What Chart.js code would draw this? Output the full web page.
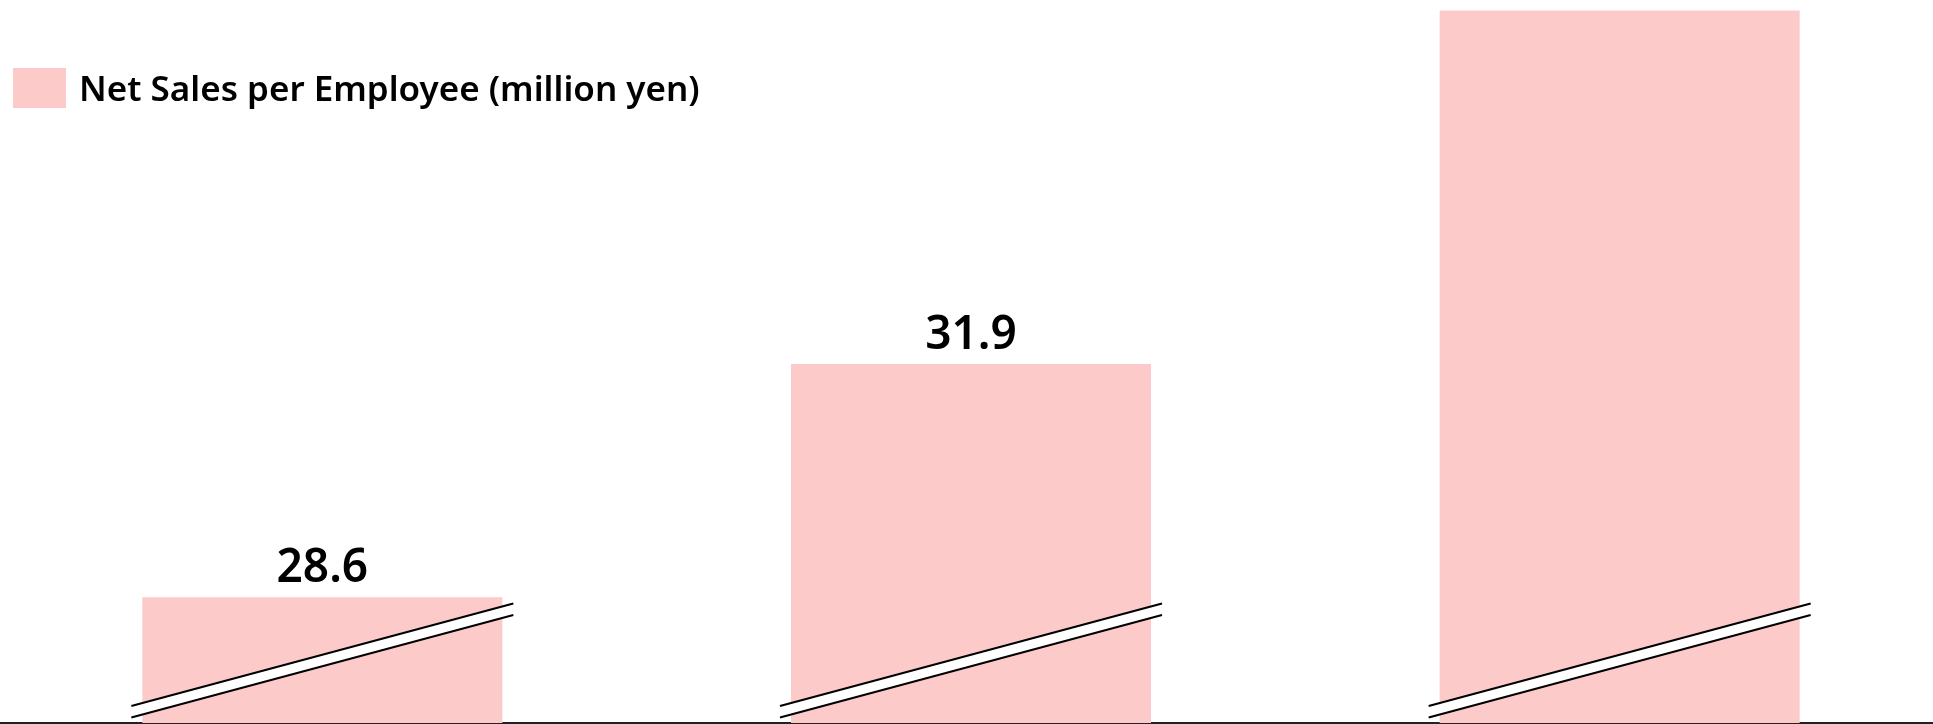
<!DOCTYPE html>
<html>
<head>
<meta charset="utf-8">
<script src="https://cdn.jsdelivr.net/npm/chart.js@4.4.1/dist/chart.umd.min.js"></script>
<style>
  html, body { margin: 0; padding: 0; background: #fff; overflow: hidden; }
  body { width: 1933px; height: 724px; position: relative; font-family: "Noto Sans", "Open Sans", sans-serif; }
  #wrap { position: absolute; left: -2px; top: 0; width: 1946px; height: 724px; }
  #legend { position: absolute; left: 13px; top: 64px; display: flex; align-items: center; font-size: 35px; font-weight: 600; color: #000; }
  #legend .box { width: 53px; height: 40px; margin-right: 13px; }
</style>
</head>
<body>
<div id="wrap"><canvas id="chart"></canvas></div>
<div id="legend"></div>
<script>
Chart.defaults.animation = false;

// --- Data ---
const categories = ['FY1', 'FY2', 'FY3'];
const salesPerEmployee = [28.6, 31.9, 36.9];
const seriesLabel = 'Net Sales per Employee (million yen)';
const barColor = '#fdcaca';

// axis is cut, so it starts well above zero
const yMin = 26.82;
const yMax = 37.05;

// --- Value labels above each bar (skipped when they would leave the canvas) ---
const valueLabels = {
  id: 'valueLabels',
  afterDatasetsDraw(chart) {
    const ctx = chart.ctx;
    const meta = chart.getDatasetMeta(0);
    ctx.save();
    ctx.font = '600 46px "Noto Sans", "Open Sans", sans-serif';
    ctx.fillStyle = '#000';
    ctx.textAlign = 'center';
    ctx.textBaseline = 'alphabetic';
    meta.data.forEach((bar, i) => {
      const y = bar.y - 15;
      if (y - 36 < 0) return;
      ctx.fillText(salesPerEmployee[i].toFixed(1), bar.x, y);
    });
    ctx.restore();
  }
};

// --- Axis break marks across the foot of each bar ---
const breakMarks = {
  id: 'breakMarks',
  afterDatasetsDraw(chart) {
    const ctx = chart.ctx;
    const bottom = chart.chartArea.bottom;
    const meta = chart.getDatasetMeta(0);
    const gap = 11.5;
    ctx.save();
    meta.data.forEach(bar => {
      const x0 = bar.x - bar.width / 2 - 11;
      const x1 = bar.x + bar.width / 2 + 11;
      const y0 = bottom - 17;
      const y1 = bottom - 119.5;
      ctx.beginPath();
      ctx.moveTo(x0, y0);
      ctx.lineTo(x1, y1);
      ctx.lineTo(x1, y1 + gap);
      ctx.lineTo(x0, y0 + gap);
      ctx.closePath();
      ctx.fillStyle = '#fff';
      ctx.fill();
      ctx.lineWidth = 2;
      ctx.strokeStyle = '#000';
      ctx.beginPath();
      ctx.moveTo(x0, y0);
      ctx.lineTo(x1, y1);
      ctx.moveTo(x0, y0 + gap);
      ctx.lineTo(x1, y1 + gap);
      ctx.stroke();
    });
    ctx.restore();
  }
};

function renderChart() {
  const ctx = document.getElementById('chart').getContext('2d');
  new Chart(ctx, {
    type: 'bar',
    data: {
      labels: categories,
      datasets: [{
        label: seriesLabel,
        data: salesPerEmployee,
        backgroundColor: barColor,
        borderWidth: 0,
        barPercentage: 0.555,
        categoryPercentage: 1
      }]
    },
    options: {
      responsive: true,
      maintainAspectRatio: false,
      layout: { padding: { top: 0, bottom: 1, left: 0, right: 0 } },
      scales: {
        x: {
          grid: { display: false, drawTicks: false },
          ticks: { display: false },
          border: { display: true, color: '#222', width: 2 }
        },
        y: {
          display: false,
          min: yMin,
          max: yMax
        }
      },
      plugins: {
        legend: { display: false },
        tooltip: { enabled: false }
      }
    },
    plugins: [breakMarks, valueLabels]
  });
}

function renderLegend() {
  const el = document.getElementById('legend');
  const box = document.createElement('span');
  box.className = 'box';
  box.style.background = barColor;
  const text = document.createElement('span');
  text.textContent = seriesLabel;
  el.appendChild(box);
  el.appendChild(text);
}

document.addEventListener('DOMContentLoaded', () => {
  renderLegend();
  renderChart();
});
</script>
</body>
</html>
